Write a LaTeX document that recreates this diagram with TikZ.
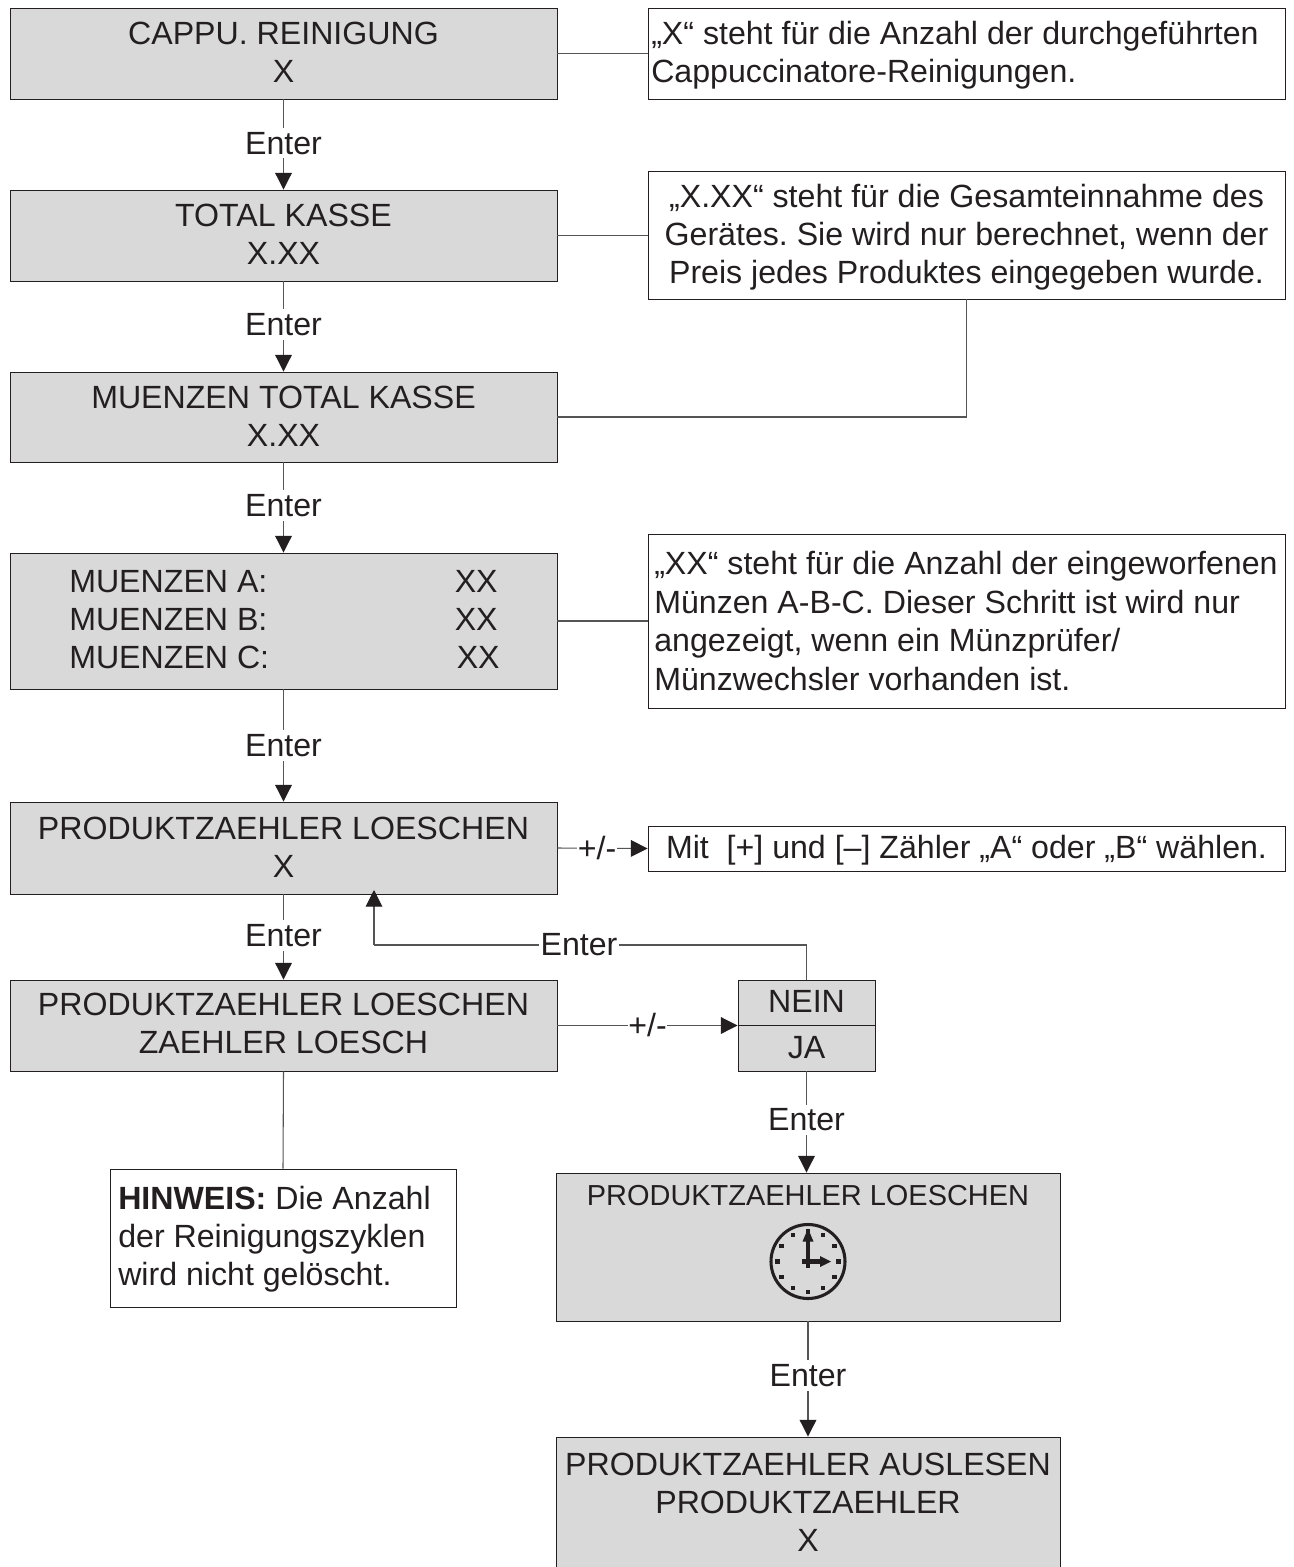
\documentclass[tikz,border=0pt]{standalone}
\usepackage{fontspec}
\setmainfont{Liberation Sans}
\usetikzlibrary{arrows.meta}
\definecolor{ink}{HTML}{231F20}
\definecolor{boxgrey}{HTML}{D9D9D9}
\definecolor{wire}{HTML}{555555}
\newcommand{\bx}[7]{\node[#2,minimum width={(#5-#3)*.75pt},minimum height={(#6-#4)*.75pt}] (#1) at ({(#3+#5)/2},{(#4+#6)/2}) {#7};}
\newcommand{\dn}[1]{\rule[-#1pt]{0pt}{0pt}}
\tikzset{
  body/.style={font=\fontsize{24.1pt}{28.5pt}\selectfont\frenchspacing,text=ink,align=center,inner sep=0pt},
  greybox/.style={body,draw=ink,fill=boxgrey,line width=.7pt},
  notebox/.style={body,draw=ink,fill=white,line width=.7pt},
  notetext/.style={body,anchor=west,align=left},
  wireline/.style={draw=wire,line width=.8pt},
  flow/.style={wireline,-{Triangle[length=12.5pt,width=12.5pt,fill=ink,color=ink]}},
  lab/.style={body,fill=white,inner xsep=1pt,inner ysep=3pt},
  plainlab/.style={body,anchor=base west},
}
\begin{document}
\begin{tikzpicture}[x=.75pt,y=-.75pt]
\useasboundingbox (0,0) rectangle (1293,1567);
\fill[white] (0,0) rectangle (1293,1567);
% grey step boxes
\bx{A}{greybox}{10}{8}{557}{99}{CAPPU. REINIGUNG\\X\dn{2.2}}
\bx{B}{greybox}{10}{190}{557}{281}{TOTAL KASSE\\X.XX\dn{2.2}}
\bx{C}{greybox}{10}{372}{557}{462}{MUENZEN TOTAL KASSE\\X.XX\dn{1.5}}
\bx{D}{greybox}{10}{553}{557}{689}{}
\node[plainlab] (Da) at (69,592.5) {MUENZEN A:};
\node[plainlab] (Db) at (69,630.5) {MUENZEN B:};
\node[plainlab] (Dc) at (69,668.5) {MUENZEN C:};
\node[plainlab] (Dax) at (454.5,592.5) {XX};
\node[plainlab] (Dbx) at (454.5,630.5) {XX};
\node[plainlab] (Dcx) at (456.5,668.5) {XX};
\bx{E}{greybox}{10}{802}{557}{894}{PRODUKTZAEHLER LOESCHEN\\X\dn{.8}}
\bx{F}{greybox}{10}{980}{557}{1071}{PRODUKTZAEHLER LOESCHEN\\ZAEHLER LOESCH\dn{3}}
\bx{G}{greybox}{738}{980}{875}{1071}{}
\draw[draw=ink,line width=.7pt] (G.west) -- (G.east);
\node[body] (Gn) at (806.5,1001.5) {NEIN};
\node[body] (Gj) at (806.5,1048) {JA};
\bx{H}{greybox}{556}{1173}{1060}{1321}{}
\node[body,font=\fontsize{21.7pt}{26pt}\selectfont] (Ht) at (808,1196) {PRODUKTZAEHLER LOESCHEN};
\bx{I}{greybox}{556}{1437}{1060}{1571}{PRODUKTZAEHLER AUSLESEN\\PRODUKTZAEHLER\\X\dn{3}}
% note boxes
\bx{N1}{notebox}{648}{8}{1285}{99}{}
\node[notetext] (N1t) at (651,54.7) {„X“ steht für die Anzahl der durchgeführten\\Cappuccinatore-Reinigungen.};
\bx{N2}{notebox}{648}{171}{1285}{299}{\rule{0pt}{20.5pt}„X.XX“ steht für die Gesamteinnahme des\\Gerätes. Sie wird nur berechnet, wenn der\\Preis jedes Produktes eingegeben wurde.}
\bx{N3}{notebox}{648}{534}{1285}{708}{}
\node[notetext,font=\fontsize{24.1pt}{29pt}\selectfont\frenchspacing] (N3t) at (654,621) {„XX“ steht für die Anzahl der eingeworfenen\\Münzen A-B-C. Dieser Schritt ist wird nur\\angezeigt, wenn ein Münzprüfer/\\Münzwechsler vorhanden ist.};
\bx{N4}{notebox}{648}{826}{1285}{871}{\rule{0pt}{20pt}Mit\ \ [+] und [–] Zähler „A“ oder „B“ wählen.}
\bx{N5}{notebox}{110}{1169}{456}{1307}{}
\node[notetext] (N5t) at (118,1239.5) {\textbf{HINWEIS:} Die Anzahl\\der Reinigungszyklen\\wird nicht gelöscht.};
% flow connectors
\draw[flow] (A.south) -- node[lab,pos=.485] (l1) {Enter} (B.north);
\draw[flow] (B.south) -- node[lab,pos=.48] (l2) {Enter} (C.north);
\draw[flow] (C.south) -- node[lab,pos=.48] (l3) {Enter} (D.north);
\draw[flow] (D.south) -- node[lab,pos=.5] (l4) {Enter} (E.north);
\draw[flow] (E.south) -- node[lab,pos=.48] (l5) {Enter} (F.north);
\draw[flow] (E.east) -- node[lab,pos=.44,inner xsep=.5pt] (l6) {+/-} (N4.west);
\draw[flow] (F.east) -- node[lab,inner xsep=.5pt] (l7) {+/-} (G.west);
\coordinate (loopc) at (374,945);
\coordinate (looptip) at (374,890);
\draw[wireline] (G.north) |- (loopc);
\draw[flow] (loopc) -- (looptip);
\node[lab] (l8) at (579,945) {Enter};
\draw[flow] (G.south) -- node[lab,pos=.48] (l9) {Enter} (G.south |- H.north);
\draw[flow] (H.south) -- node[lab,pos=.47] (l10) {Enter} (I.north);
% plain links
\draw[wireline] (A.east) -- (N1.west);
\draw[wireline] (B.east) -- (N2.west |- B.east);
\draw[wireline] (C.east) -| (N2.south);
\draw[wireline] (D.east) -- (N3.west |- D.east);
\draw[wireline] (F.south) -- (N5.north);
% clock
\begin{scope}[shift={(808,1261.5)}]
\draw[ink,line width=2.3pt,fill=none] (0,0) circle (37);
\foreach \a in {0,30,...,330}{\fill[ink] (\a:30.5) ++(-2.2,-2.2) rectangle ++(4.4,4.4);}
\draw[ink,line width=3.4pt] (-6,0) -- (14,0);
\draw[ink,line width=3.4pt] (0,6) -- (0,-22);
\fill[ink] (23,0) -- (12,-5.5) -- (12,5.5) -- cycle;
\fill[ink] (0,-33) -- (-5.5,-20) -- (5.5,-20) -- cycle;
\end{scope}
\end{tikzpicture}
\end{document}
